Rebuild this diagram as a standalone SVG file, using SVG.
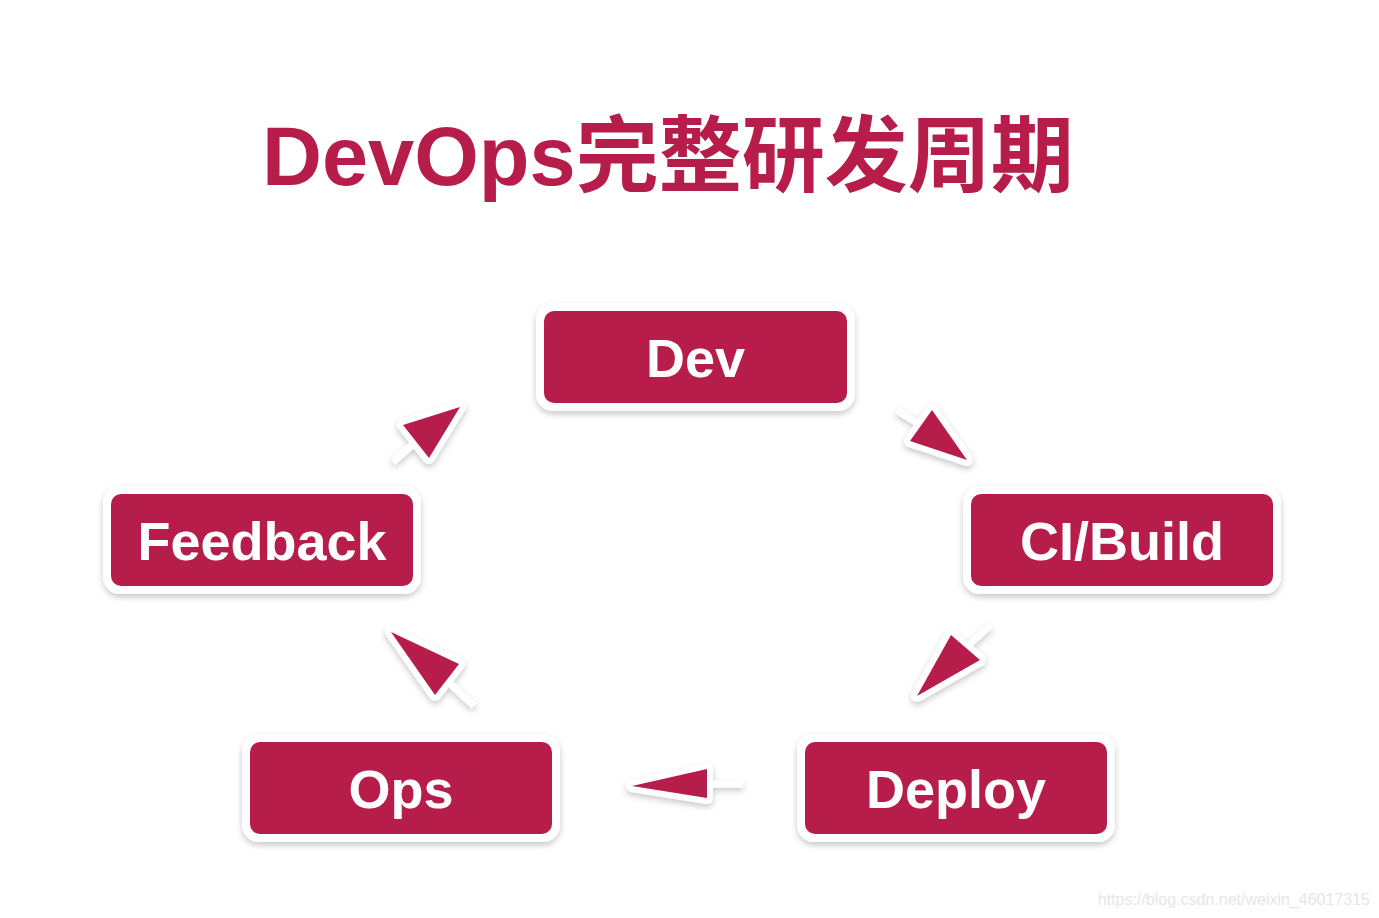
<svg xmlns="http://www.w3.org/2000/svg" width="1379" height="918" viewBox="0 0 1379 918">
<defs>
<style>
.title{font-family:"Liberation Sans","Noto Sans CJK SC",sans-serif;font-weight:bold;font-size:83px;fill:#b71d4b}
.frame{fill:#ffffff}
.box{fill:#b71d4b}
.lbl{font-family:"Liberation Sans",Arial,sans-serif;font-weight:bold;font-size:54px;fill:#ffffff;text-anchor:middle}
.halo{fill:#ffffff;stroke:#ffffff;stroke-width:12;stroke-linejoin:round}
.head{fill:#b71d4b}
.tail{stroke:#ffffff;stroke-width:7;stroke-linecap:butt;fill:none}
.wm{font-family:"Liberation Sans",Arial,sans-serif;font-size:16px;fill:#e6e6e6;text-anchor:end}
</style>
<filter id="sh" x="-20%" y="-30%" width="140%" height="170%">
<feDropShadow dx="0" dy="3" stdDeviation="3" flood-color="#000000" flood-opacity="0.22"/>
</filter>
</defs>
<rect width="1379" height="918" fill="#ffffff"/>
<text class="title" x="262" y="185">DevOps完整研发周期</text>

<g id="connectors">
<g id="feedback-dev">
<g filter="url(#sh)">
<line class="tail" x1="393" y1="462" x2="418" y2="440"/>
<polygon class="halo" points="460,407 403,425 429,458"/>
</g>
<polygon class="head" points="460,407 403,425 429,458"/>
</g>
<g id="dev-ci">
<g filter="url(#sh)">
<line class="tail" x1="897" y1="410" x2="922" y2="426"/>
<polygon class="halo" points="967,460 932,410 910,441"/>
</g>
<polygon class="head" points="967,460 932,410 910,441"/>
</g>
<g id="ci-deploy">
<g filter="url(#sh)">
<line class="tail" x1="991" y1="625" x2="964" y2="649"/>
<polygon class="halo" points="917,696 951,635 980,660"/>
</g>
<polygon class="head" points="917,696 951,635 980,660"/>
</g>
<g id="deploy-ops">
<g filter="url(#sh)">
<line class="tail" x1="743" y1="784" x2="705" y2="784"/>
<polygon class="halo" points="632,786 707,769 707,798"/>
</g>
<polygon class="head" points="632,786 707,769 707,798"/>
</g>
<g id="ops-feedback">
<g filter="url(#sh)">
<line class="tail" x1="474" y1="706" x2="446" y2="680"/>
<polygon class="halo" points="391,632 459,664 435,695"/>
</g>
<polygon class="head" points="391,632 459,664 435,695"/>
</g>
</g>

<g id="node-dev">
<rect class="frame" filter="url(#sh)" x="536" y="303" width="319" height="108" rx="17"/>
<rect class="box" x="544" y="311" width="303" height="92" rx="10"/>
<text class="lbl" x="695.5" y="377">Dev</text>
</g>
<g id="node-feedback">
<rect class="frame" filter="url(#sh)" x="103" y="486" width="318" height="108" rx="17"/>
<rect class="box" x="111" y="494" width="302" height="92" rx="10"/>
<text class="lbl" x="262" y="560">Feedback</text>
</g>
<g id="node-cibuild">
<rect class="frame" filter="url(#sh)" x="963" y="486" width="318" height="108" rx="17"/>
<rect class="box" x="971" y="494" width="302" height="92" rx="10"/>
<text class="lbl" x="1122" y="560">CI/Build</text>
</g>
<g id="node-ops">
<rect class="frame" filter="url(#sh)" x="242" y="734" width="318" height="108" rx="17"/>
<rect class="box" x="250" y="742" width="302" height="92" rx="10"/>
<text class="lbl" x="401" y="808">Ops</text>
</g>
<g id="node-deploy">
<rect class="frame" filter="url(#sh)" x="797" y="734" width="318" height="108" rx="17"/>
<rect class="box" x="805" y="742" width="302" height="92" rx="10"/>
<text class="lbl" x="956" y="808">Deploy</text>
</g>

<text class="wm" x="1370" y="905">https://blog.csdn.net/weixin_46017315</text>
</svg>
